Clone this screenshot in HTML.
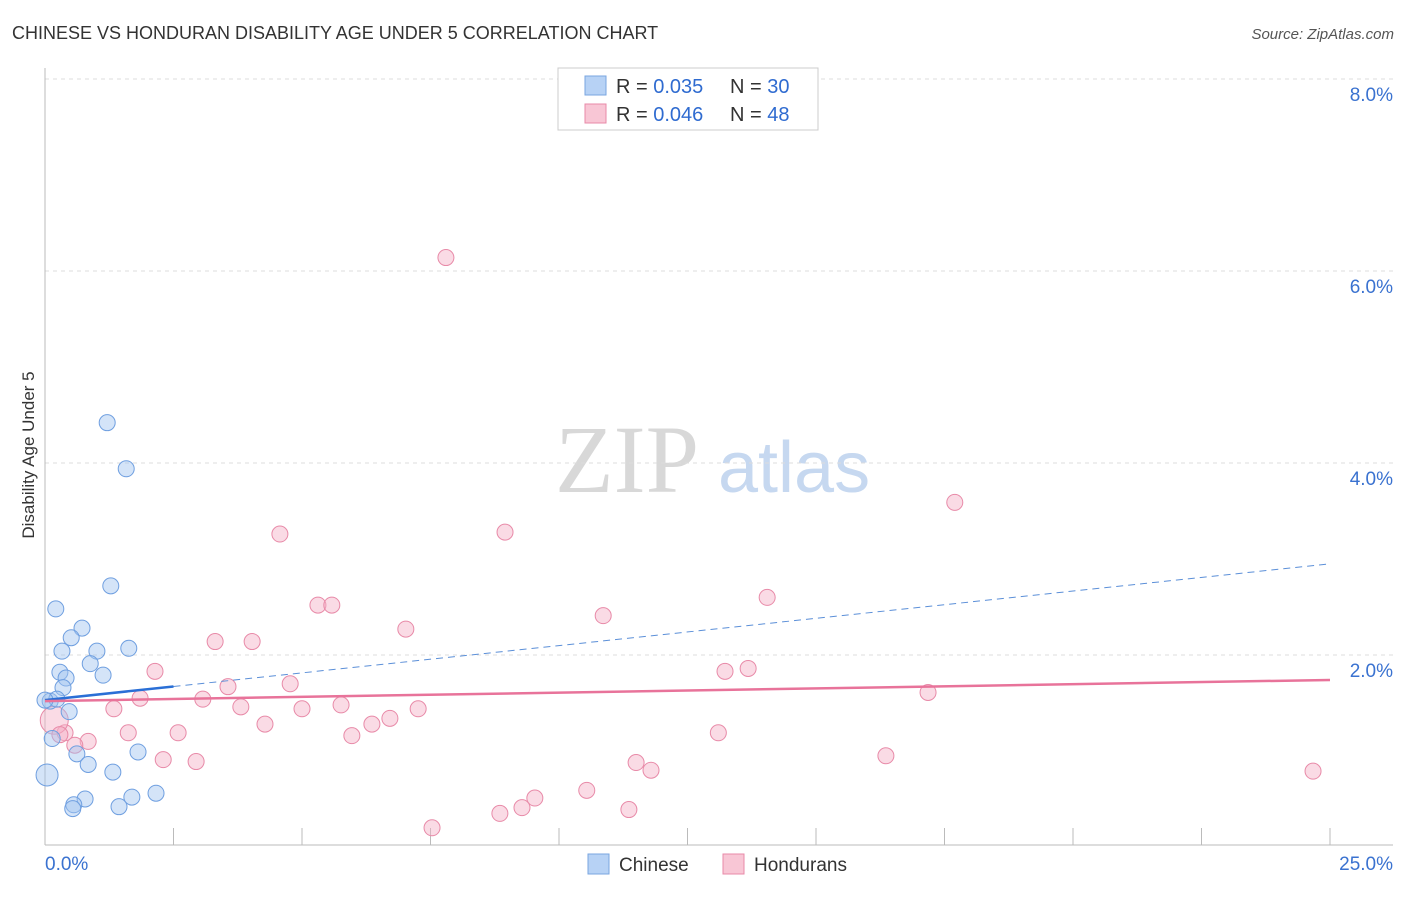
<!DOCTYPE html>
<html><head><meta charset="utf-8"><style>
body{margin:0;background:#fff;font-family:"Liberation Sans",sans-serif;}
</style></head><body>
<svg id="c" width="1406" height="892" xmlns="http://www.w3.org/2000/svg" font-family="Liberation Sans, sans-serif">
<text x="12" y="39" font-size="18" fill="#333">CHINESE VS HONDURAN DISABILITY AGE UNDER 5 CORRELATION CHART</text>
<text x="1394" y="39" font-size="15" fill="#555" font-style="italic" text-anchor="end">Source: ZipAtlas.com</text>
<text x="555" y="492" font-size="96" fill="#d8d8d8" style="font-family:'Liberation Serif',serif">ZIP</text>
<text x="718" y="492" font-size="72" fill="#c6d8f0">atlas</text>
<text transform="translate(34,455) rotate(-90)" font-size="17" fill="#333" text-anchor="middle">Disability Age Under 5</text>
<g id="grid"></g><g id="marks"></g>
<g>
<rect x="558" y="68" width="260" height="62" fill="#fff" stroke="#ccc"/>
<rect x="585" y="76" width="21" height="19" fill="#b7d2f5" stroke="#7aa6e0"/>
<text x="616" y="93" font-size="20" fill="#333">R = <tspan fill="#2f6bd0">0.035</tspan></text>
<text x="730" y="93" font-size="20" fill="#333">N = <tspan fill="#2f6bd0">30</tspan></text>
<rect x="585" y="104" width="21" height="19" fill="#f8c6d5" stroke="#e88aa8"/>
<text x="616" y="121" font-size="20" fill="#333">R = <tspan fill="#2f6bd0">0.046</tspan></text>
<text x="730" y="121" font-size="20" fill="#333">N = <tspan fill="#2f6bd0">48</tspan></text>
</g>
<g>
<rect x="588" y="854" width="21" height="20" fill="#b7d2f5" stroke="#7aa6e0"/>
<text x="619" y="871" font-size="19" fill="#333">Chinese</text>
<rect x="723" y="854" width="21" height="20" fill="#f8c6d5" stroke="#e88aa8"/>
<text x="754" y="871" font-size="19" fill="#333">Hondurans</text>
</g>
</svg>
<script>
const yTicks=[2,4,6,8];
const yTickLabels=["2.0%","4.0%","6.0%","8.0%"];
const xTickVals=[0,2.5,5,7.5,10,12.5,15,17.5,20,22.5,25];
const chineseX=[1.21,1.58,1.28,0.21,0.72,0.51,1.63,0.33,1.01,0.88,0.29,1.13,0.41,0.35,0.10,0.23,0.47,0.14,0.62,1.81,0.84,1.32,0.04,0.78,0.56,0.54,1.69,2.16,1.44,0.0];
const chineseY=[4.42,3.94,2.72,2.48,2.28,2.18,2.07,2.04,2.04,1.91,1.82,1.79,1.76,1.66,1.52,1.54,1.41,1.13,0.97,0.99,0.86,0.78,0.75,0.50,0.44,0.40,0.52,0.56,0.42,1.53];
const hondX=[7.80,17.70,4.57,8.95,5.31,5.58,14.05,10.86,7.02,3.31,4.03,2.14,13.23,13.68,3.56,4.77,1.85,3.07,17.18,1.34,3.81,5.0,5.76,7.26,6.71,6.36,4.28,1.62,2.59,5.97,13.1,0.39,0.84,0.58,0.18,2.30,2.94,16.36,11.5,11.79,24.67,10.54,9.53,9.28,11.36,8.85,7.53,0.29];
const hondY=[6.14,3.59,3.26,3.28,2.52,2.52,2.60,2.41,2.27,2.14,2.14,1.83,1.83,1.86,1.67,1.70,1.55,1.54,1.61,1.44,1.46,1.44,1.48,1.44,1.34,1.28,1.28,1.19,1.19,1.16,1.19,1.19,1.10,1.06,1.32,0.91,0.89,0.95,0.88,0.80,0.79,0.59,0.51,0.41,0.39,0.35,0.20,1.17];
const chineseTrend=[1.53,2.95];
const chineseSolidEnd=2.5;
const hondTrend=[1.52,1.74];
const sx=v=>45+v*51.4, sy=v=>847-v*96;
const NS="http://www.w3.org/2000/svg";
function mk(t,a,p){const e=document.createElementNS(NS,t);for(const k in a)e.setAttribute(k,a[k]);p.appendChild(e);return e;}
const g=document.getElementById('grid'),m=document.getElementById('marks');
yTicks.forEach((v,i)=>{
 const l=mk('line',{x1:45,x2:1393,y1:sy(v),y2:sy(v),stroke:'#ddd','stroke-dasharray':'4,4'},g);
 
 
 const t=mk('text',{x:1393,y:sy(v)+22,'font-size':19,fill:'#3a72d0','text-anchor':'end'},g);t.textContent=yTickLabels[i];
 
 
});
const topLine=mk('line',{x1:45,x2:1393,y1:79,y2:79,stroke:'#ddd','stroke-dasharray':'4,4'},g);


const yAx=mk('line',{x1:45,x2:45,y1:68,y2:845,stroke:'#bbb'},g);


const xAx=mk('line',{x1:45,x2:1393,y1:845,y2:845,stroke:'#bbb'},g);


xTickVals.forEach(v=>{const l=mk('line',{x1:sx(v),x2:sx(v),y1:828,y2:845,stroke:'#bbb'},g);
 
 });
const t0=mk('text',{x:45,y:870,'font-size':19,fill:'#3a72d0'},g);t0.textContent="0.0%";


const t1=mk('text',{x:1393,y:870,'font-size':19,fill:'#3a72d0','text-anchor':'end'},g);t1.textContent="25.0%";


hondX.forEach((x,i)=>{const c=mk('circle',{cx:sx(x),cy:sy(hondY[i]),r:(i==34?14:8),fill:'rgba(245,175,198,0.45)',stroke:'#e88aa8','stroke-width':1},m);
 
 });
chineseX.forEach((x,i)=>{const c=mk('circle',{cx:sx(x),cy:sy(chineseY[i]),r:(i==22?11:8),fill:'rgba(160,195,240,0.45)',stroke:'#6f9fe0','stroke-width':1},m);
 
 });
const cyf=x=>chineseTrend[0]+(chineseTrend[1]-chineseTrend[0])*x/25;
const d=mk('line',{x1:sx(chineseSolidEnd),y1:sy(cyf(chineseSolidEnd)),x2:sx(25),y2:sy(cyf(25)),stroke:'#5b8fd8','stroke-width':1,'stroke-dasharray':'7,5'},m);


const s=mk('line',{x1:sx(0),y1:sy(cyf(0)),x2:sx(chineseSolidEnd),y2:sy(cyf(chineseSolidEnd)),stroke:'#2a6fd6','stroke-width':2.5},m);


const h=mk('line',{x1:sx(0),y1:sy(hondTrend[0]),x2:sx(25),y2:sy(hondTrend[1]),stroke:'#e8739a','stroke-width':2.5},m);


</script>
</body></html>
